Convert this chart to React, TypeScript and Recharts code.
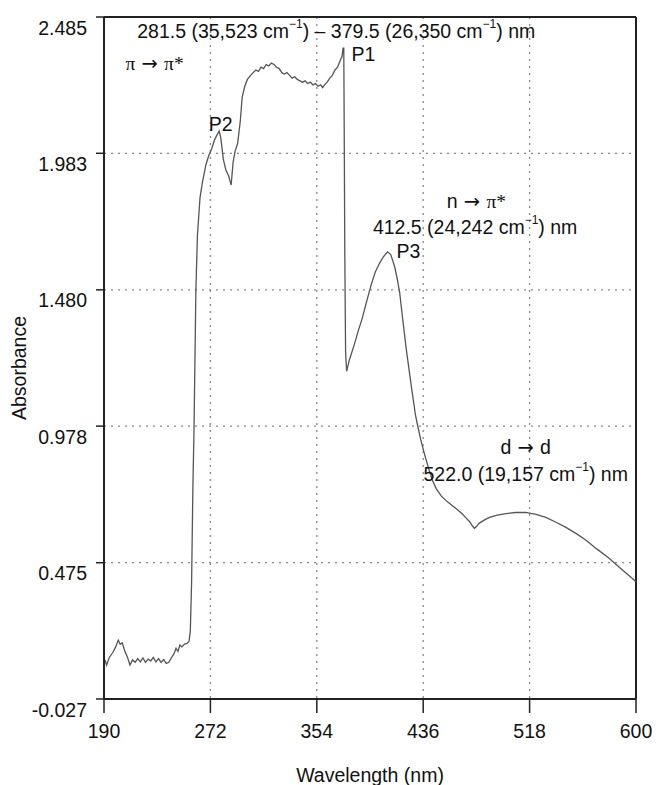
import React from 'react';
import { LineChart, Line, XAxis, YAxis, CartesianGrid, ReferenceLine, ReferenceDot } from 'recharts';

// wavelength (nm) and absorbance
const wavelength = [
  190.8, 192, 194, 197, 199, 201, 202.5, 204, 206, 208, 210, 212, 214, 216, 218, 220, 222, 224, 226, 228,
  230, 232, 234, 236, 238, 240, 242, 244, 245.5, 247, 248.5, 250, 252, 254, 255.5, 256.5, 257.5, 258.5, 259.4, 260.8,
  262, 264, 266, 268.5, 270.8, 273, 275, 277, 278.8, 280, 282, 284, 286, 288, 289.5, 291, 293, 295, 296.5, 298.5,
  300.5, 303, 305, 307, 309, 311, 313, 315, 317, 319, 321, 323, 325, 327, 329, 331, 333, 335, 337, 339,
  341, 343, 345, 347, 349, 351, 353, 355, 357, 358.5, 360, 362, 364, 366, 368, 370, 372, 373.5, 374.2, 374.8,
  375.2, 375.6, 376.2, 377, 379, 383, 386, 389, 392, 396, 399, 402, 405, 408.5, 411, 414, 416, 418, 420, 423,
  427, 430, 431.5, 434, 437, 440, 443, 446, 450, 454.5, 458.5, 462, 466, 469, 472, 474, 475.5, 477, 479, 483,
  487, 493, 500, 507, 515, 523, 530.5, 538, 546, 554, 561.5, 570, 579, 588, 597, 600,
];
const absorbance = [
  0.117, 0.098, 0.125, 0.146, 0.165, 0.19, 0.175, 0.18, 0.15, 0.128, 0.098, 0.117, 0.108, 0.122, 0.11, 0.124, 0.108, 0.12, 0.113, 0.126,
  0.11, 0.122, 0.108, 0.118, 0.104, 0.108, 0.125, 0.14, 0.16, 0.148, 0.172, 0.165, 0.175, 0.178, 0.185, 0.22, 0.4, 0.75, 0.975, 1.476,
  1.68, 1.82, 1.88, 1.94, 1.976, 2.0, 2.03, 2.05, 2.065, 2.04, 1.96, 1.92, 1.9, 1.866, 1.95, 1.99, 2.02, 2.1, 2.19, 2.23,
  2.255, 2.27, 2.28, 2.29, 2.285, 2.3, 2.295, 2.31, 2.305, 2.315, 2.31, 2.3, 2.295, 2.28, 2.275, 2.28, 2.27, 2.26, 2.265, 2.255,
  2.25, 2.245, 2.25, 2.24, 2.245, 2.235, 2.24, 2.23, 2.235, 2.225, 2.235, 2.245, 2.26, 2.27, 2.29, 2.3, 2.325, 2.34, 2.37, 2.37,
  2.0, 1.6, 1.25, 1.18, 1.22, 1.28, 1.33, 1.375, 1.43, 1.5, 1.545, 1.575, 1.6, 1.62, 1.61, 1.565, 1.52, 1.465, 1.38, 1.26,
  1.12, 1.02, 0.985, 0.93, 0.875, 0.825, 0.78, 0.748, 0.72, 0.7, 0.685, 0.672, 0.655, 0.64, 0.625, 0.61, 0.602, 0.608, 0.62, 0.632,
  0.642, 0.65, 0.656, 0.66, 0.66, 0.653, 0.642, 0.625, 0.605, 0.582, 0.558, 0.525, 0.492, 0.455, 0.418, 0.405,
];

const xTicks = [190, 272, 354, 436, 518, 600];
const yTicks = [-0.027, 0.475, 0.978, 1.48, 1.983, 2.485];

const data = wavelength.map((w, i) => ({ w, a: absorbance[i] }));

const SANS = '"Liberation Sans", Arial, sans-serif';
const SERIF = '"Liberation Serif", "Times New Roman", serif';
const ARROW = '"DejaVu Sans", sans-serif';
const FS = 19.5;

type Seg = { t: string; sup?: boolean; font?: string };

// renders a line of text centred on a reference dot, with cm^-1 superscripts
const note = (segs: Seg[]) => (props: any) => {
  const vb = props.viewBox || {};
  const cx = vb.x + (vb.width || 0) / 2;
  const cy = vb.y + (vb.height || 0) / 2;
  let shifted = false;
  return (
    <text x={cx} y={cy} textAnchor="middle" dominantBaseline="central" fontSize={FS} fontFamily={SANS} fill="#111">
      {segs.map((s, i) => {
        let dy = 0;
        if (s.sup && !shifted) { dy = -7; shifted = true; }
        else if (!s.sup && shifted) { dy = 7; shifted = false; }
        return (
          <tspan key={i} dy={dy || undefined} fontSize={s.sup ? 12 : undefined} fontFamily={s.font}>
            {s.t}
          </tspan>
        );
      })}
    </text>
  );
};

const YTick = (p: any) => (
  <text x={p.x} y={p.y} dy={10.5} textAnchor="end" dominantBaseline="central" fontSize={FS} fontFamily={SANS} fill="#111">
    {Number(p.payload.value).toFixed(3)}
  </text>
);

export default function App() {
  return (
    <div style={{ width: 644, height: 777, background: '#fff' }}>
      <LineChart width={644} height={777} data={data} margin={{ top: 9, right: 16, bottom: 0, left: 0 }}>
        <CartesianGrid stroke="#888" strokeDasharray="2 5" strokeWidth={1.3} />
        <XAxis
          dataKey="w"
          type="number"
          domain={[190, 600]}
          ticks={xTicks}
          height={86}
          axisLine={{ stroke: '#222', strokeWidth: 2 }}
          tickLine={{ stroke: '#222', strokeWidth: 1.5 }}
          tickSize={14}
          tickMargin={11}
          tick={{ fontSize: FS, fill: '#111', fontFamily: SANS }}
          label={(props: any) => {
            const vb = props.viewBox;
            return (
              <text x={vb.x + vb.width / 2} y={vb.y + vb.height - 3} textAnchor="middle" fontSize={FS} fontFamily={SANS} fill="#111">
                Wavelength (nm)
              </text>
            );
          }}
        />
        <YAxis
          type="number"
          domain={[-0.027, 2.485]}
          ticks={yTicks}
          width={96}
          allowDataOverflow
          axisLine={{ stroke: '#222', strokeWidth: 2 }}
          tickLine={{ stroke: '#222', strokeWidth: 1.5 }}
          tickSize={8}
          tickMargin={9}
          tick={YTick}
          label={(props: any) => {
            const vb = props.viewBox;
            const x = vb.x + 10.5;
            const y = vb.y + vb.height / 2 + 10;
            return (
              <text x={x} y={y} transform={`rotate(-90 ${x} ${y})`} textAnchor="middle" dominantBaseline="central" fontSize={FS} fontFamily={SANS} fill="#111">
                Absorbance
              </text>
            );
          }}
        />
        <ReferenceLine y={2.485} stroke="#222" strokeWidth={2} />
        <ReferenceLine x={600} stroke="#222" strokeWidth={2} />
        <Line type="linear" dataKey="a" stroke="#555" strokeWidth={1.3} dot={false} isAnimationActive={false} />

        <ReferenceDot x={369} y={2.433} r={0} stroke="none" fill="none" label={note([
          { t: '281.5 (35,523 cm' }, { t: '−1', sup: true }, { t: ') – 379.5 (26,350 cm' }, { t: '−1', sup: true }, { t: ') nm' },
        ])} />
        <ReferenceDot x={229} y={2.317} r={0} stroke="none" fill="none" label={note([
          { t: 'π', font: SERIF }, { t: ' → ', font: ARROW }, { t: 'π*', font: SERIF },
        ])} />
        <ReferenceDot x={280} y={2.09} r={0} stroke="none" fill="none" label={note([{ t: 'P2' }])} />
        <ReferenceDot x={390} y={2.35} r={0} stroke="none" fill="none" label={note([{ t: 'P1' }])} />
        <ReferenceDot x={477} y={1.807} r={0} stroke="none" fill="none" label={note([
          { t: 'n' }, { t: ' → ', font: ARROW }, { t: 'π*', font: SERIF },
        ])} />
        <ReferenceDot x={476} y={1.712} r={0} stroke="none" fill="none" label={note([
          { t: '412.5 (24,242 cm' }, { t: '−1', sup: true }, { t: ') nm' },
        ])} />
        <ReferenceDot x={424.6} y={1.624} r={0} stroke="none" fill="none" label={note([{ t: 'P3' }])} />
        <ReferenceDot x={515} y={0.901} r={0} stroke="none" fill="none" label={note([
          { t: 'd' }, { t: ' → ', font: ARROW }, { t: 'd' },
        ])} />
        <ReferenceDot x={515} y={0.802} r={0} stroke="none" fill="none" label={note([
          { t: '522.0 (19,157 cm' }, { t: '−1', sup: true }, { t: ') nm' },
        ])} />
      </LineChart>
    </div>
  );
}
